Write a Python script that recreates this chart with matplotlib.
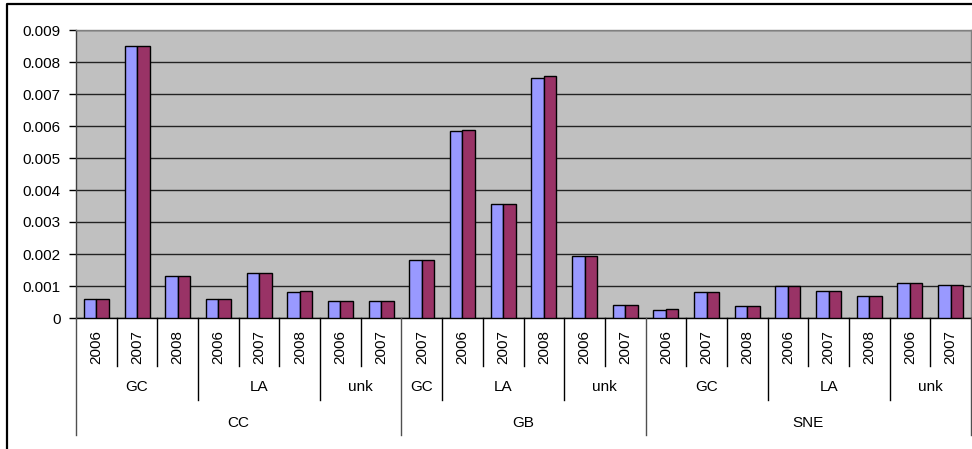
import matplotlib
matplotlib.use("Agg")
import matplotlib.pyplot as plt
from matplotlib.transforms import blended_transform_factory
from matplotlib.lines import Line2D
import numpy as np

plt.rcParams["font.family"] = ["Liberation Sans", "DejaVu Sans"]

# Hierarchical categories: group -> subgroup -> years
groups = ["CC", "GB", "SNE"]
subgroups = [
    ["GC", "LA", "unk"],
    ["GC", "LA", "unk"],
    ["GC", "LA", "unk"],
]
years = [
    [["2006", "2007", "2008"], ["2006", "2007", "2008"], ["2006", "2007"]],
    [["2007"], ["2006", "2007", "2008"], ["2006", "2007"]],
    [["2006", "2007", "2008"], ["2006", "2007", "2008"], ["2006", "2007"]],
]

series_a = [0.00060, 0.00851, 0.00132, 0.00060, 0.00140, 0.00080, 0.00052, 0.00052,
            0.00180, 0.00584, 0.00356, 0.00751, 0.00193, 0.00041,
            0.00024, 0.00080, 0.00036, 0.00101, 0.00084, 0.00069, 0.00108, 0.00104]
series_b = [0.00060, 0.00851, 0.00132, 0.00060, 0.00140, 0.00085, 0.00052, 0.00052,
            0.00180, 0.00588, 0.00356, 0.00755, 0.00193, 0.00041,
            0.00028, 0.00080, 0.00036, 0.00101, 0.00084, 0.00069, 0.00108, 0.00104]

y_ticks = [0, 0.001, 0.002, 0.003, 0.004, 0.005, 0.006, 0.007, 0.008, 0.009]
y_tick_labels = ["0", "0.001", "0.002", "0.003", "0.004", "0.005",
                 "0.006", "0.007", "0.008", "0.009"]

W, H = 972, 449
fig = plt.figure(figsize=(W / 100, H / 100), dpi=100)
fig.patch.set_facecolor("white")

left_px, right_px, top_px, bottom_px = 76, 971, 30, 318
ax = fig.add_axes([left_px / W, 1 - bottom_px / H,
                   (right_px - left_px) / W, (bottom_px - top_px) / H])
ax.set_facecolor("#C0C0C0")

n = len(series_a)
x = np.arange(n)
bw = 0.307
ax.bar(x - bw / 2, series_a, width=bw, color="#9999FF", edgecolor="black",
       linewidth=1.0, zorder=3)
ax.bar(x + bw / 2, series_b, width=bw, color="#993366", edgecolor="black",
       linewidth=1.0, zorder=3)

ax.set_xlim(-0.5, n - 0.5)
ax.set_ylim(0, 0.009)
ax.set_yticks(y_ticks)
ax.set_yticklabels(y_tick_labels, fontsize=11)
ax.tick_params(axis="y", direction="out", length=5, width=1, pad=6, colors="black")
ax.set_xticks([])
ax.yaxis.grid(True, color="#222222", linewidth=1.0, zorder=1)
ax.set_axisbelow(True)

for side in ("top", "right"):
    ax.spines[side].set_color("#808080")
    ax.spines[side].set_linewidth(1.0)
ax.spines["left"].set_color("#404040")
ax.spines["bottom"].set_color("black")
ax.spines["left"].set_linewidth(1.0)
ax.spines["bottom"].set_linewidth(1.0)

# Multi-level category axis drawn below the plot area
trans = blended_transform_factory(ax.transData, fig.transFigure)


def fy(py):
    return 1 - py / H


def vline(xd, y0, y1, color="black"):
    fig.add_artist(Line2D([xd, xd], [fy(y0), fy(y1)], transform=trans,
                          color=color, linewidth=1.0, clip_on=False))


year_y, sub_y, grp_y = 347, 387, 423
year_end, sub_end, grp_end = 366, 400, 435

idx = 0
for g, gname in enumerate(groups):
    g_start = idx
    for s, sname in enumerate(subgroups[g]):
        s_start = idx
        for yr in years[g][s]:
            fig.text(0, fy(year_y), yr, transform=trans, rotation=90,
                     ha="center", va="center", fontsize=11)
            # position via data x
            fig.texts[-1].set_x(idx)
            if idx != s_start:
                vline(idx - 0.5, bottom_px, year_end)
            idx += 1
        fig.text((s_start + idx - 1) / 2, fy(sub_y), sname, transform=trans,
                 ha="center", va="center", fontsize=11)
        if s_start != g_start:
            vline(s_start - 0.5, bottom_px, sub_end)
    fig.text((g_start + idx - 1) / 2, fy(grp_y), gname, transform=trans,
             ha="center", va="center", fontsize=11)
    vline(g_start - 0.5, bottom_px, grp_end, color="#505050")
vline(n - 0.5, bottom_px, grp_end, color="#505050")

# Chart area border (left and top edges)
fig.add_artist(Line2D([6.5 / W, 6.5 / W, 1.0], [0.0, fy(3.5), fy(3.5)],
                      transform=fig.transFigure, color="black",
                      linewidth=1.6, clip_on=False))

fig.savefig("out.png", dpi=100, facecolor="white")
